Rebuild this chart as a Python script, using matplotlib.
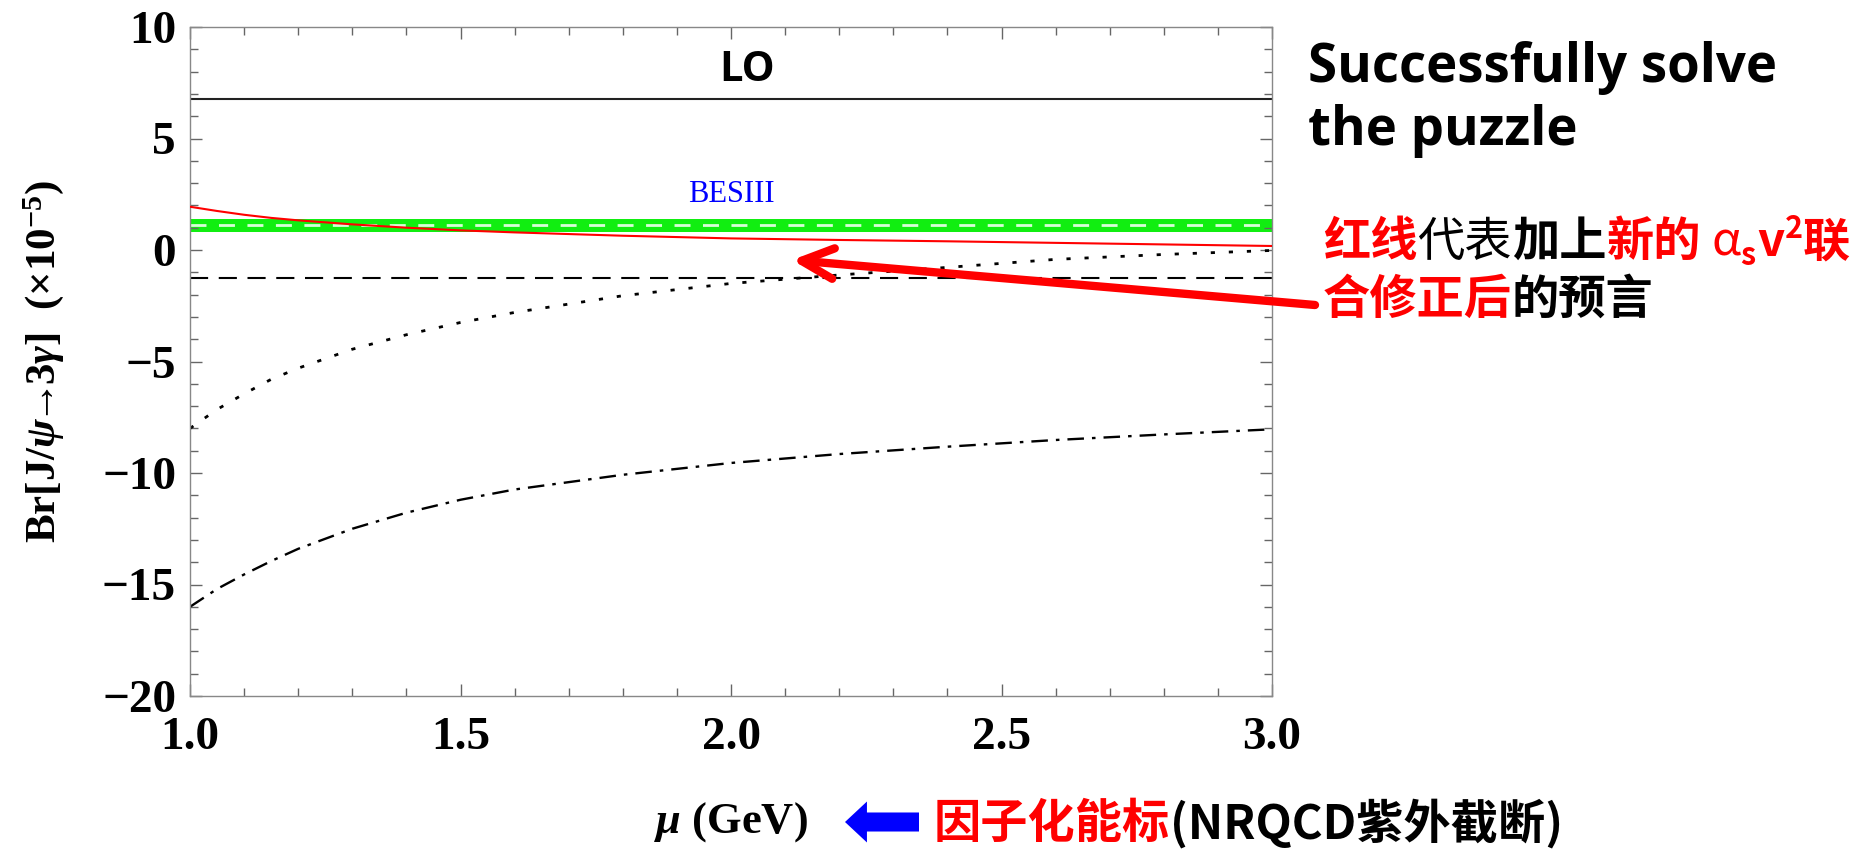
import matplotlib
matplotlib.use('Agg')
import matplotlib.pyplot as plt
from matplotlib.ticker import MultipleLocator, FormatStrFormatter
from matplotlib.transforms import IdentityTransform

# values (units of 1e-5)
mu = [1.0, 1.05, 1.1, 1.15, 1.2, 1.3, 1.4, 1.5, 1.6, 1.8, 2.0, 2.2, 2.4, 2.6, 2.8, 3.0]
br_red = [1.94, 1.75, 1.58, 1.44, 1.33, 1.15, 1.0, 0.88, 0.79, 0.64, 0.52, 0.45, 0.39, 0.32, 0.25, 0.18]
br_dotted = [-8.0, -7.15, -6.45, -5.8, -5.3, -4.45, -3.8, -3.25, -2.8, -2.05, -1.5, -1.12, -0.78, -0.42, -0.2, -0.02]
br_dashdot = [-16.0, -15.2, -14.55, -13.95, -13.4, -12.5, -11.78, -11.2, -10.74, -10.08, -9.55, -9.15, -8.82, -8.52, -8.27, -8.04]
br_lo = 6.76
br_dashed = -1.27
besiii_mid = 1.1
besiii_err = 0.31

CJK = ['Noto Sans CJK SC', 'DejaVu Sans']

plt.rcParams['font.family'] = ['Liberation Serif', 'DejaVu Serif']
plt.rcParams['font.weight'] = 'bold'
plt.rcParams['mathtext.fontset'] = 'custom'
plt.rcParams['mathtext.rm'] = 'Liberation Serif:bold'
plt.rcParams['mathtext.it'] = 'Liberation Serif:italic:bold'
plt.rcParams['mathtext.bf'] = 'Liberation Serif:bold'

fig = plt.figure(figsize=(18.64, 8.5), dpi=100)
ax = fig.add_axes([190/1864, 1-696/850, 1082/1864, 669/850])

ax.axhline(br_lo, color='#222222', lw=1.5)
ax.axhspan(besiii_mid-besiii_err, besiii_mid+besiii_err, color='#11ee11', lw=0)
ax.axhline(besiii_mid, color='#d8ffd8', lw=2, dashes=(5.75, 4.5))
ax.axhline(br_dashed, color='black', lw=1.5, dashes=(8.7, 5.1))
ax.plot(mu, br_dotted, color='black', lw=2.0, dashes=(1.5, 5.0))
ax.plot(mu, br_dashdot, color='black', lw=1.7, dashes=(7, 3.4, 1.5, 3.4))
ax.plot(mu, br_red, color='red', lw=1.5, zorder=5)

ax.set_xlim(1, 3)
ax.set_ylim(-20, 10)
ax.xaxis.set_major_locator(MultipleLocator(0.5))
ax.xaxis.set_minor_locator(MultipleLocator(0.1))
ax.yaxis.set_major_locator(MultipleLocator(5))
ax.yaxis.set_minor_locator(MultipleLocator(1))
ax.xaxis.set_major_formatter(FormatStrFormatter('%.1f'))
ax.tick_params(which='both', direction='in', top=True, right=True, color='#666666', width=1, labelsize=34)
ax.tick_params(which='major', length=8.5)
ax.tick_params(which='minor', length=5.5)
ax.tick_params(axis='x', pad=15)
ax.tick_params(axis='y', pad=10)
for s in ax.spines.values():
    s.set_color('#888888')
    s.set_linewidth(1)

ax.set_ylabel(r'Br[J/$\psi\!\!\rightarrow\!\!3\gamma$]  ($\times$10$^{-5}$)', fontsize=31, fontweight='bold')
ax.yaxis.set_label_coords(-0.115, 0.5)
ax.set_xlabel(r'$\mu$ (GeV)', fontsize=32, fontweight='bold')
ax.xaxis.set_label_coords(0.5, -0.155)

ax.text(2.0, 2.47, 'BESIII', color='blue', fontsize=22, fontweight='normal', ha='center', va='center')
ax.text(2.03, 8.05, 'LO', fontsize=30, fontweight='bold', family=['Open Sans'], ha='center', va='center')

fig.text(1308, 768, 'Successfully solve', transform=IdentityTransform(), fontsize=38,
         fontweight='bold', family=['Open Sans'], va='baseline')
fig.text(1308, 705, 'the puzzle', transform=IdentityTransform(), fontsize=38,
         fontweight='bold', family=['Open Sans'], va='baseline')


def write_row(x, y, pieces):
    renderer = fig.canvas.get_renderer()
    for text, color, weight, size, dy, style, dx in pieces:
        t = fig.text(x + dx, y + dy, text, color=color, fontsize=size, fontweight=weight,
                     fontstyle=style, family=CJK, transform=IdentityTransform(), va='baseline')
        x = t.get_window_extent(renderer).x1


write_row(1323, 594, [
    ('红线', 'red', 'bold', 34, 0, 'normal', 0),
    ('代表', 'black', 'normal', 34, 0, 'normal', 0),
    ('加上', 'black', 'bold', 34, 0, 'normal', 0),
    ('新的', 'red', 'bold', 34, 0, 'normal', 0),
    ('α', 'red', 'normal', 34, 0, 'italic', 10),
    ('s', 'red', 'bold', 22, -9, 'normal', 0),
    ('v', 'red', 'bold', 34, 0, 'normal', 2),
    ('2', 'red', 'bold', 22, 18, 'normal', 0),
    ('联', 'red', 'bold', 34, 0, 'normal', 0),
])
write_row(1323, 536, [
    ('合修正后', 'red', 'bold', 34, 0, 'normal', 0),
    ('的预言', 'black', 'bold', 34, 0, 'normal', 0),
])
write_row(934, 12, [
    ('因子化能标', 'red', 'bold', 34, 0, 'normal', 0),
    ('(NRQCD紫外截断)', 'black', 'bold', 34, 0, 'normal', 0),
])

# red pointer to the curve
ax.annotate('', xy=(792, 590), xytext=(1315, 545), xycoords='figure pixels', textcoords='figure pixels',
            arrowprops=dict(arrowstyle='->,head_length=2.3,head_width=1.1', color='red', lw=6,
                            shrinkA=0, shrinkB=0, mutation_scale=10), annotation_clip=False)
# blue arrow pointing at the axis label
ax.annotate('', xy=(845, 28), xytext=(919, 28), xycoords='figure pixels', textcoords='figure pixels',
            arrowprops=dict(arrowstyle='simple,head_length=1.58,head_width=2.95,tail_width=1.37',
                            color='blue', lw=0, shrinkA=0, shrinkB=0, mutation_scale=10),
            annotation_clip=False)

fig.savefig('out.png', dpi=100)
